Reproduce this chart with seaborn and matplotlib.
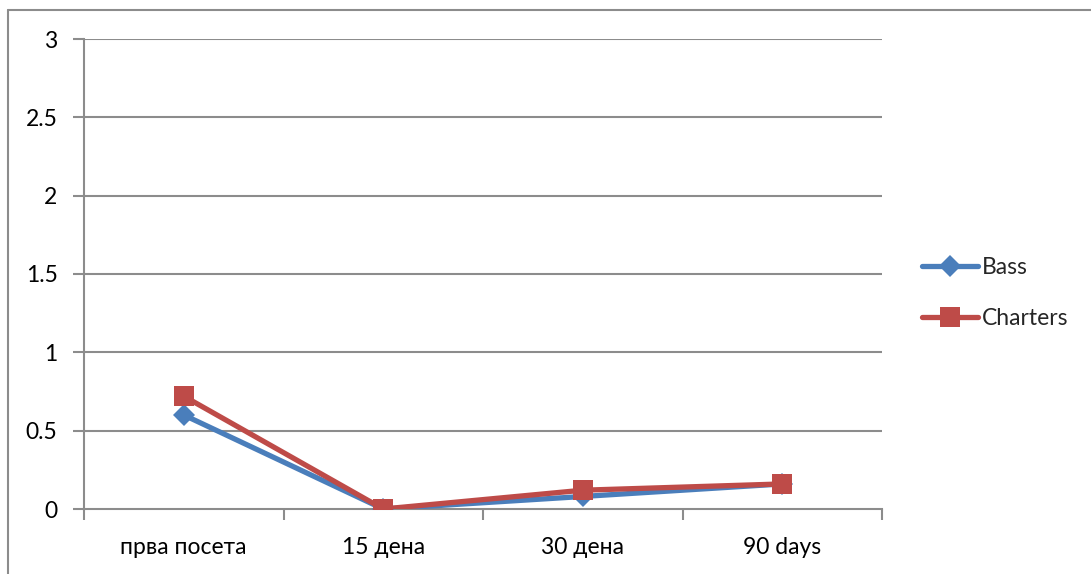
import matplotlib
matplotlib.use("Agg")
import matplotlib.pyplot as plt
from matplotlib.lines import Line2D
import seaborn as sns
import pandas as pd

categories = ["прва посета", "15 дена", "30 дена", "90 days"]
bass = [0.60, 0.00, 0.08, 0.16]
charters = [0.72, 0.00, 0.12, 0.16]
series_names = ["Bass", "Charters"]

df = pd.DataFrame({
    "visit": categories * 2,
    "value": bass + charters,
    "series": [series_names[0]] * 4 + [series_names[1]] * 4,
})

sns.set_theme(style="white")
plt.rcParams["font.family"] = ["Lato", "DejaVu Sans"]

fig = plt.figure(figsize=(10.91, 5.74), dpi=100)
ax = fig.add_axes([84 / 1091, 1 - 509 / 574, (882 - 84) / 1091, (509 - 39) / 574])

grid_c = "#8c8c8c"
palette = {"Bass": "#4A7EBB", "Charters": "#BE4B48"}
markers = {"Bass": "D", "Charters": "s"}
sizes = {"Bass": 11.5, "Charters": 14.5}

for name in series_names:
    sub = df[df["series"] == name]
    sns.lineplot(data=sub, x="visit", y="value", ax=ax, color=palette[name],
                 marker=markers[name], markersize=sizes[name], linewidth=3.8,
                 markeredgewidth=0, label=name, sort=False, zorder=3)

ax.set_xlim(-0.5, len(categories) - 0.5)
ax.set_ylim(0, 3)
ax.set_yticks([0, 0.5, 1, 1.5, 2, 2.5, 3])
ax.set_yticklabels(["0", "0.5", "1", "1.5", "2", "2.5", "3"])
ax.set_xticks(range(len(categories)))
ax.set_xticklabels(categories)
ax.set_xlabel("")
ax.set_ylabel("")

for y in [0.5, 1, 1.5, 2, 2.5, 3]:
    ax.axhline(y, color=grid_c, linewidth=1.5, zorder=1)

for s in ["top", "right"]:
    ax.spines[s].set_visible(False)
for s in ["left", "bottom"]:
    ax.spines[s].set_color(grid_c)
    ax.spines[s].set_linewidth(1.5)

ax.tick_params(axis="y", which="major", length=8, width=1.5, color=grid_c,
               direction="out", labelsize=16.5, pad=11, labelcolor="black", left=True)
ax.tick_params(axis="x", which="major", length=0, labelsize=16.5, pad=20,
               labelcolor="black")
# category boundary ticks on the x-axis
ax.set_xticks([i - 0.5 for i in range(len(categories) + 1)], minor=True)
ax.tick_params(axis="x", which="minor", length=8, width=1.5, color=grid_c,
               direction="out", bottom=True)

leg = ax.legend(loc="center left", bbox_to_anchor=(922 / 1091, 1 - 293 / 574),
                bbox_transform=fig.transFigure, frameon=False, fontsize=16.5,
                handlelength=2.45, handletextpad=0.15, labelspacing=1.3,
                borderaxespad=0, borderpad=0, markerscale=0.95)

# outer chart frame
fig.add_artist(Line2D([8 / 1091, 1], [1 - 10 / 574, 1 - 10 / 574],
                      transform=fig.transFigure, color=grid_c, linewidth=1.5))
fig.add_artist(Line2D([8 / 1091, 8 / 1091], [0, 1 - 10 / 574],
                      transform=fig.transFigure, color=grid_c, linewidth=1.5))

fig.savefig("out.png", dpi=100, facecolor="white")
